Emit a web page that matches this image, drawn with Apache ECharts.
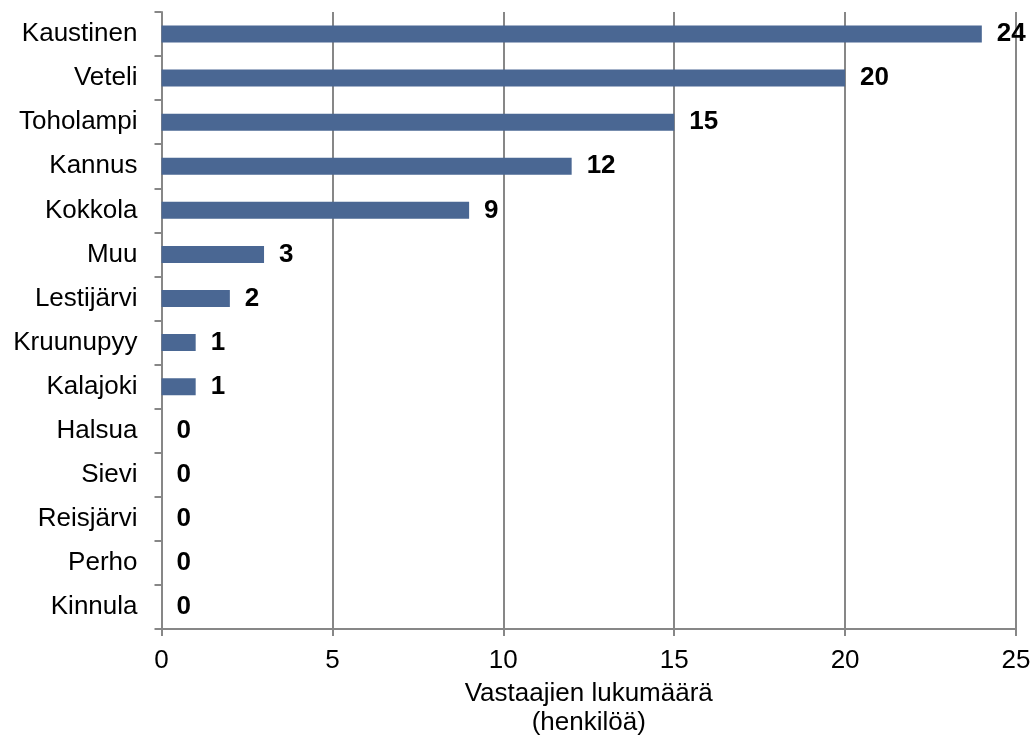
<!DOCTYPE html>
<html><head><meta charset="utf-8">
<script src="https://cdn.jsdelivr.net/npm/echarts@6/dist/echarts.min.js"></script>
<style>html,body{margin:0;padding:0;background:#fff}#c{width:1035px;height:742px}</style>
</head><body><div id="c"></div>
<script>
const categories = ["Kaustinen","Veteli","Toholampi","Kannus","Kokkola","Muu","Lestijärvi","Kruunupyy","Kalajoki","Halsua","Sievi","Reisjärvi","Perho","Kinnula"];
const values = [24,20,15,12,9,3,2,1,1,0,0,0,0,0];
const xTicks = {min:0, max:25, interval:5};
const axisTitle = "Vastaajien lukumäärä\n(henkilöä)";

const chart = echarts.init(document.getElementById('c'));
const F = "Liberation Sans, Arial, sans-serif";
chart.setOption({
  animation:false,
  grid:{left:161.5,right:19,top:12,bottom:108,containLabel:false},
  xAxis:{type:'value',min:xTicks.min,max:xTicks.max,interval:xTicks.interval,
    name:axisTitle,nameLocation:'middle',nameGap:48,
    nameTextStyle:{fontFamily:F,fontSize:26,color:'#000',lineHeight:29,verticalAlign:'top'},
    axisLine:{show:true,lineStyle:{color:'#878787',width:2}},
    axisTick:{show:true,length:7,lineStyle:{color:'#878787',width:2}},
    axisLabel:{fontFamily:F,fontSize:26,color:'#000',margin:19},
    splitLine:{show:true,lineStyle:{color:'#878787',width:2}}},
  yAxis:{type:'category',data:categories,inverse:true,
    axisLine:{show:true,lineStyle:{color:'#878787',width:2}},
    axisTick:{show:true,length:7,inside:false,lineStyle:{color:'#878787',width:2}},
    axisLabel:{fontFamily:F,fontSize:26,color:'#000',margin:24}},
  series:[{type:'bar',data:values,barWidth:17,
    itemStyle:{color:'#4A6793'},
    label:{show:true,position:'right',distance:15,fontFamily:F,fontSize:26,fontWeight:'bold',color:'#000'}}]
});
</script></body></html>
